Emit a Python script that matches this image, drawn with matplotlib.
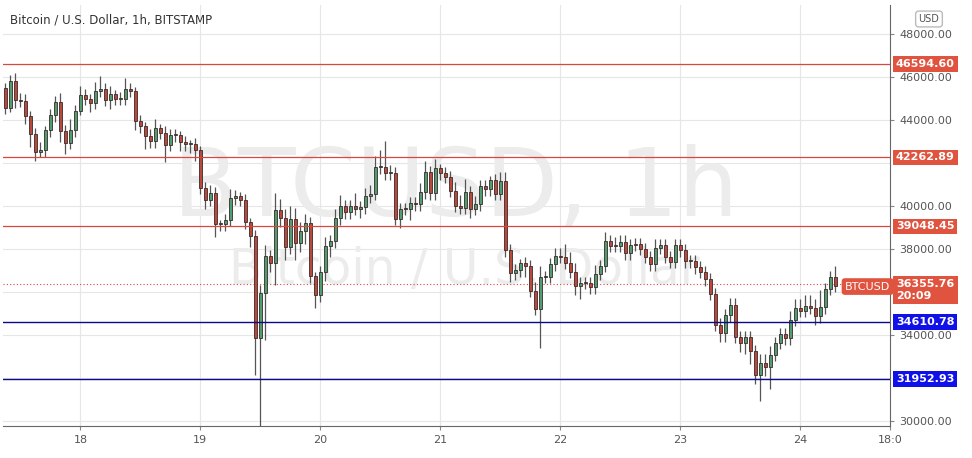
import matplotlib
matplotlib.use("Agg")
import matplotlib.pyplot as plt
from matplotlib.patches import Rectangle

closes = [44560,45800,44950,44900,44200,43350,42500,42600,43530,44230,44840,43490,42930,43530,44420,45160,45000,44790,45350,45440,
          44930,45200,44980,45000,45440,45350,43950,43720,43260,43020,43630,43400,42840,43300,43300,42980,42880,42880,42600,40840,
          40280,40600,39160,39160,39350,40370,40460,40280,39250,38600,33860,35950,37670,37350,39810,39440,38090,39400,38280,38840,
          39210,36740,35860,36930,38140,38370,39440,40000,39720,40000,39860,39950,40460,40560,41810,41810,41530,41530,39400,39860,
          39860,40140,40090,40650,41580,40600,41770,41530,41350,40700,40000,39910,40650,39860,40090,40930,40790,41210,40560,41160,
          37950,36880,37020,37350,37210,36050,35210,36700,36700,37300,37670,37630,37350,36930,36280,36420,36420,36230,36840,37210,
          38370,38140,38140,38330,37810,38190,38230,38000,37630,37300,38050,38190,37630,37400,38190,37950,37440,37440,37160,36930,
          36600,35910,34470,34090,34930,35400,33910,33630,33910,33260,32140,32700,32510,33070,33630,34050,33860,34700,35260,35120,
          35350,35260,34880,35300,36140,36700,36280]
first_open = 45500
up_wick = [2,3,4,3,3,2,3,4,2,3,3,4,3,5,3,4,3,2,4,6,3,4,2,3,5,3,2,3,2,3,4,2,3,3,3,2,3,2,3,2,
           3,4,3,2,3,4,3,2,3,2,3,4,5,3,8,5,4,6,5,4,4,3,2,3,4,3,4,5,3,3,6,3,4,4,5,8,12,4,3,3,
           3,3,3,4,5,3,4,2,3,3,4,5,6,3,4,3,3,2,3,4,4,3,3,2,3,3,4,5,3,3,4,4,6,5,4,3,3,3,4,3,
           4,3,4,3,3,3,3,3,3,3,4,3,3,3,3,3,3,3,3,3,3,3,3,3,3,3,3,3,3,3,3,4,4,4,3,3,3,4,4,4,
           5,5,4,8,3,3,5]
dn_wick = [3,2,4,3,4,6,4,2,3,3,3,5,5,3,3,2,3,4,3,3,3,4,3,3,3,3,4,3,6,3,3,3,8,3,3,4,3,4,5,3,
           4,3,6,3,3,3,3,3,3,5,17,59,22,4,10,4,6,3,8,4,6,3,6,3,4,5,3,3,3,3,3,4,3,3,3,3,3,3,3,4,
           3,5,3,3,3,3,3,3,3,3,3,3,3,4,3,3,3,3,3,3,3,4,3,3,5,3,3,18,3,3,3,3,3,3,4,6,3,3,3,3,
           3,3,3,3,3,3,3,3,3,3,3,3,3,3,3,3,3,3,3,3,3,3,3,4,4,3,3,4,5,6,4,12,4,10,3,3,3,3,3,3,
           3,3,4,3,3,3,3]
levels_red = [46594.60, 42262.89, 39048.45]
levels_blue = [34610.78, 31952.93]
last_price = 36355.76
day_labels = ["18", "19", "20", "21", "22", "23", "24", "18:0"]
day_pos = [15, 39, 63, 87, 111, 135, 159, 177]
yticks = [30000, 34000, 38000, 40000, 44000, 46000, 48000]
grid_y = [30000, 32000, 34000, 36000, 38000, 40000, 42000, 44000, 46000, 48000]

fig = plt.figure(figsize=(9.72, 4.58), dpi=100)
ax = fig.add_axes([3/972, 1-426/458, 887/972, 421/458])
ax.set_xlim(-0.5, 175.8)
ax.set_ylim(29770, 49350)

for g in grid_y:
    ax.axhline(g, color="#e6e6e6", lw=0.8, zorder=0)
for d in day_pos[:-1]:
    ax.axvline(d, color="#e6e6e6", lw=0.8, zorder=0)

ax.text(0.51, 0.56, "BTCUSD, 1h", transform=ax.transAxes, fontsize=68, color="#ececec",
        ha="center", va="center", zorder=0)
ax.text(0.52, 0.37, "Bitcoin / U.S. Dollar", transform=ax.transAxes, fontsize=35, color="#ececec",
        ha="center", va="center", zorder=0)

prev = first_open
for i, c in enumerate(closes):
    o = prev
    hi = max(o, c) + up_wick[i] * 100
    lo = min(o, c) - dn_wick[i] * 100
    col = "#4f9e70" if c >= o else "#b9493a"
    ax.vlines(i, lo, hi, color="#555555", lw=0.9, zorder=2)
    h = max(abs(c - o), 40)
    ax.add_patch(Rectangle((i - 0.3, min(o, c)), 0.6, h, facecolor=col,
                           edgecolor="#3a2a2a", lw=0.6, zorder=3))
    prev = c

for lv in levels_red:
    ax.axhline(lv, color="#d9473f", lw=0.9, zorder=4)
for lv in levels_blue:
    ax.axhline(lv, color="#0a0a8a", lw=1.0, zorder=4)
ax.axhline(last_price, color="#d9473f", lw=0.8, ls=(0, (1, 2)), zorder=1)

ax.yaxis.tick_right()
ax.set_yticks(yticks)
ax.set_yticklabels([f"{v:.2f}" for v in yticks], fontsize=8, color="#555555")
ax.set_xticks(day_pos)
ax.set_xticklabels(day_labels, fontsize=8, color="#555555")
ax.tick_params(axis="both", length=3, color="#888888")
for s in ["top", "left"]:
    ax.spines[s].set_visible(False)
ax.spines["right"].set_color("#666666")
ax.spines["bottom"].set_color("#666666")

def box(y, txt, col):
    ax.text(1.0 + 6/887, y, txt, transform=ax.get_yaxis_transform(), fontsize=8, color="white",
            fontweight="bold", ha="left", va="center", zorder=6,
            bbox=dict(boxstyle="square,pad=0.25", fc=col, ec="none"))

for lv in levels_red:
    box(lv, f"{lv:.2f}", "#e0533f")
for lv in levels_blue:
    box(lv, f"{lv:.2f}", "#1010e8")
ax.text(1.0 + 6/887, last_price - 250, f"{last_price:.2f}\n20:09", transform=ax.get_yaxis_transform(),
        fontsize=8, color="white", fontweight="bold", ha="left", va="center", zorder=6, linespacing=1.2,
        bbox=dict(boxstyle="square,pad=0.3", fc="#e0533f", ec="none"))
ax.text(1.0 - 45/887, last_price - 100, "BTCUSD", transform=ax.get_yaxis_transform(), fontsize=8,
        color="white", ha="left", va="center", zorder=6,
        bbox=dict(boxstyle="round,pad=0.3", fc="#e0533f", ec="none"))

fig.text(10/972, 1-20/458, "Bitcoin / U.S. Dollar, 1h, BITSTAMP", fontsize=8.5, color="#333333", va="center")
fig.text(929/972, 1-19/458, "USD", fontsize=7, color="#555555", ha="center", va="center",
         bbox=dict(boxstyle="round,pad=0.3", fc="white", ec="#bbbbbb"))

fig.savefig("out.png", dpi=100)
